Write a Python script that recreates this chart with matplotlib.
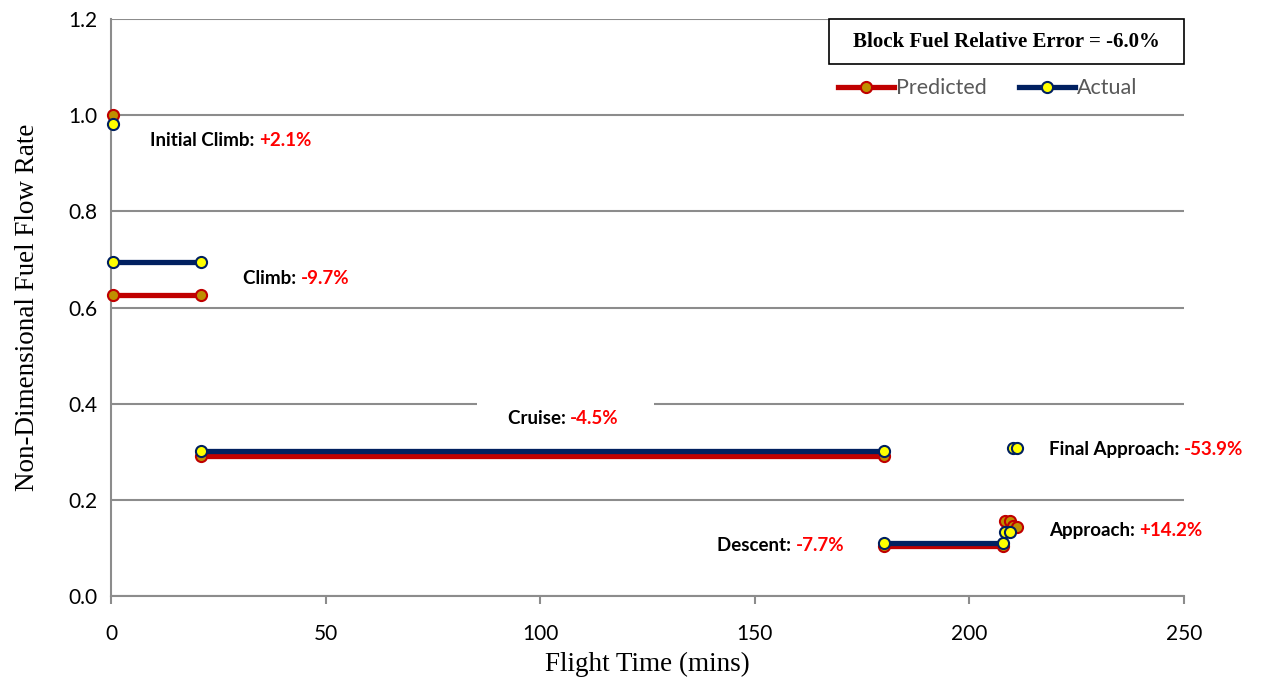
import matplotlib.pyplot as plt
from matplotlib.patches import Rectangle

# Flight phases: time (mins), predicted and actual non-dimensional fuel flow
phase_names = ["Initial Climb", "Climb", "Cruise", "Descent", "Approach", "Final Approach"]
phase_errors = ["+2.1%", "-9.7%", "-4.5%", "-7.7%", "+14.2%", "-53.9%"]
phase_times = [[0.5], [0.5, 21.0], [21.0, 180.1], [180.1, 207.8], [208.2, 209.5], [210.2, 211.2]]
predicted = [[1.0], [0.626, 0.626], [0.291, 0.291], [0.104, 0.104], [0.156, 0.157], [0.146, 0.144]]
actual = [[0.982], [0.695, 0.695], [0.302, 0.302], [0.111, 0.111], [0.134, 0.133], [0.308, 0.308]]

# label anchor (left edge, vertical centre) in data coords
label_pos = [(9.1, 0.948), (30.8, 0.661), (92.5, 0.370), (141.2, 0.106), (218.5, 0.137), (218.5, 0.304)]

block_error = "-6.0%"

red = "#C00000"
gold = "#BF8F00"
navy = "#002060"
yellow = "#FFFF00"
grid_gray = "#8C8C8C"

fig = plt.figure(figsize=(12.64, 6.82), dpi=100)
ax = fig.add_axes([0.0878, 0.1261, 0.8489, 0.846])

for i in range(len(phase_names)):
    ax.plot(phase_times[i], predicted[i], "-o", color=red, linewidth=3.8,
            markersize=8, markerfacecolor=gold, markeredgecolor=red,
            markeredgewidth=1.5, zorder=3, clip_on=False,
            label="Predicted" if i == 0 else None)
for i in range(len(phase_names)):
    ax.plot(phase_times[i], actual[i], "-o", color=navy, linewidth=3.8,
            markersize=8, markerfacecolor=yellow, markeredgecolor=navy,
            markeredgewidth=1.5, zorder=4, clip_on=False,
            label="Actual" if i == 0 else None)

ax.set_xlim(0, 250)
ax.set_ylim(0, 1.2)
ax.set_xticks([0, 50, 100, 150, 200, 250])
ax.set_yticks([0.0, 0.2, 0.4, 0.6, 0.8, 1.0, 1.2])
ax.set_yticklabels(["0.0", "0.2", "0.4", "0.6", "0.8", "1.0", "1.2"])
ax.yaxis.grid(True, color=grid_gray, linewidth=1.5, zorder=0)
ax.set_axisbelow(True)
for s in ["top", "right"]:
    ax.spines[s].set_visible(False)
for s in ["left", "bottom"]:
    ax.spines[s].set_color(grid_gray)
    ax.spines[s].set_linewidth(1.5)
ax.tick_params(axis="x", direction="out", length=6, width=1.5, color=grid_gray,
               labelsize=15, pad=14)
ax.tick_params(axis="y", length=0, labelsize=15, pad=10)
for lab in ax.get_xticklabels() + ax.get_yticklabels():
    lab.set_fontfamily("Lato")

ax.set_xlabel("Flight Time (mins)", fontsize=19.5, family="Liberation Serif", labelpad=6)
ax.set_ylabel("Non-Dimensional Fuel Flow Rate", fontsize=19.5, family="Liberation Serif", labelpad=20)

# white patch behind cruise label
ax.add_patch(Rectangle((85.3, 0.355), 41.2, 0.065, facecolor="white", edgecolor="none", zorder=1))

for i, name in enumerate(phase_names):
    x, y = label_pos[i]
    t = ax.text(x, y, name + ": ", fontsize=13.5, fontweight="bold", family="Lato",
                color="black", ha="left", va="center", zorder=5)
    ax.annotate(phase_errors[i], xy=(1, 0), xycoords=t, fontsize=13.5, fontweight="bold",
                family="Lato", color="#FF0000", ha="left", va="bottom", zorder=5)

# block fuel box
ax.add_patch(Rectangle((0.669, 0.922), 0.331, 0.078, transform=ax.transAxes,
                       facecolor="white", edgecolor="black", linewidth=1.2, zorder=5,
                       clip_on=False))
ax.text(0.8345, 0.961, "Block Fuel Relative Error = " + block_error, transform=ax.transAxes,
        fontsize=15, fontweight="bold", family="Liberation Serif", ha="center", va="center",
        zorder=6)

leg = ax.legend(loc="center", bbox_to_anchor=(0.817, 0.880), ncol=2, frameon=False,
                handlelength=2.6, columnspacing=1.5, handletextpad=0.1,
                prop={"family": "Lato", "size": 15.5})
for txt in leg.get_texts():
    txt.set_color("#595959")

plt.savefig("out.png", dpi=100)
